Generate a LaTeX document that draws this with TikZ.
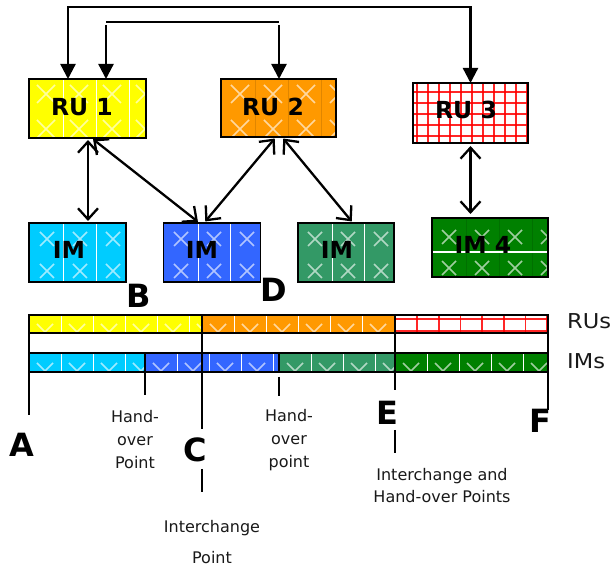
\documentclass[tikz,border=0pt]{standalone}
\usepackage{fontspec}
\setmainfont{DejaVu Sans}
\usetikzlibrary{arrows.meta}
\definecolor{cYellow}{HTML}{FFFF00}
\definecolor{cOrange}{HTML}{FF9900}
\definecolor{cCyan}{HTML}{00CCFF}
\definecolor{cBlue}{HTML}{3366FF}
\definecolor{cSea}{HTML}{339966}
\definecolor{cGreen}{HTML}{008000}
\definecolor{cRed}{HTML}{FF0000}

% X marks: #1 x of first centre, #2 y of first centre, #3 dx, #4 dy, #5 nx, #6 ny, #7 half size
\newcommand\crosses[7]{%
  \foreach \i in {1,...,#5}{\foreach \j in {1,...,#6}{%
    \draw[xmark] ({#1+(\i-1)*#3-#7},{#2+(\j-1)*#4-#7}) -- ++({2*#7},{2*#7})
                 ({#1+(\i-1)*#3-#7},{#2+(\j-1)*#4+#7}) -- ++({2*#7},{-2*#7});}}}

% bar segment: x1,x2,y1,y2,colour,count
\newcommand\barseg[6]{%
  \fill[#5] (#1,#3) rectangle (#2,#4);
  \begin{scope}
    \clip (#1,#3) rectangle (#2,#4);
    \foreach \k in {0,...,#6}{%
      \draw[wline] ({#1+32+32*\k},#3) -- ({#1+32+32*\k},#4);
      \draw[xmark] ({#1+16+32*\k-8},{#4-9}) -- ({#1+16+32*\k},{#4-1}) -- ({#1+16+32*\k+8},{#4-9});}
  \end{scope}}

\tikzset{
  box/.style={draw=black,line width=1.9pt,inner sep=0pt,outer sep=0pt},
  wline/.style={white,line width=0.9pt},
  fline/.style={black,opacity=0.12,line width=0.8pt},
  xmark/.style={white,opacity=0.62,line width=1.5pt},
  conn/.style={line width=2.3pt},
  dbl/.style={conn,{Straight Barb[length=11pt,width=20pt]}-{Straight Barb[length=11pt,width=20pt]},shorten <=2pt,shorten >=2pt},
  tip/.style={conn,-{Triangle[length=15pt,width=15pt]}},
  boxlbl/.style={font=\fontsize{23.5}{27}\selectfont\bfseries,inner sep=0pt},
  big/.style={font=\fontsize{32}{36}\selectfont\bfseries,inner sep=0pt},
  note/.style={font=\fontsize{16}{23}\selectfont,align=center,inner sep=0pt,text=black!90},
  side/.style={anchor=west,inner sep=0pt,font=\fontsize{20.5}{24}\selectfont,text=black!90},
  mline/.style={line width=2pt},
  gridline/.style={cRed,line width=1.8pt,opacity=0.85}
}

\begin{document}
\begin{tikzpicture}[x=1pt,y=-1pt]
\useasboundingbox (0,0) rectangle (614,569);

% ---------- RU 1 ----------
\fill[cYellow] (29,79) rectangle (146,138);
\begin{scope}\clip (29,79) rectangle (146,138);
  \foreach \x in {63,96,129} \draw[wline] (\x,79) -- (\x,138);
  \crosses{46}{94}{33}{35}{4}{2}{9}
\end{scope}
\node[box,minimum width=117pt,minimum height=59pt] (ru1) at (87.5,108.5) {};
\node[boxlbl] (ru1t) at (82,107) {RU 1};

% ---------- RU 2 ----------
\fill[cOrange] (221,79) rectangle (336,137);
\begin{scope}\clip (221,79) rectangle (336,137);
  \foreach \x in {255,288,321} \draw[fline] (\x,79) -- (\x,137);
  \crosses{240}{94}{33}{35}{4}{2}{9}
\end{scope}
\node[box,minimum width=115pt,minimum height=58pt] (ru2) at (278.5,108) {};
\node[boxlbl] (ru2t) at (273,107) {RU 2};

% ---------- RU 3 ----------
\fill[white] (413,83) rectangle (528,143);
\begin{scope}\clip (413,83) rectangle (528,143);
  \foreach \x in {417,428,...,528} \draw[gridline] (\x,83) -- (\x,143);
  \foreach \y in {92,103,...,143} \draw[gridline] (413,\y) -- (528,\y);
\end{scope}
\node[box,minimum width=115pt,minimum height=60pt] (ru3) at (470.5,113) {};
\node[boxlbl] (ru3t) at (466,110) {RU 3};

% ---------- IM cyan ----------
\fill[cCyan] (29,223) rectangle (126,282);
\begin{scope}\clip (29,223) rectangle (126,282);
  \foreach \x in {63,96} \draw[wline] (\x,223) -- (\x,282);
  \crosses{47}{239}{33}{32}{3}{2}{7}
\end{scope}
\node[box,minimum width=97pt,minimum height=59pt] (imc) at (77.5,252.5) {};
\node[boxlbl] (imct) at (69,250) {IM};

% ---------- IM blue ----------
\fill[cBlue] (163.5,223) rectangle (260.5,282);
\begin{scope}\clip (163.5,223) rectangle (260.5,282);
  \foreach \x in {198,230} \draw[wline] (\x,223) -- (\x,282);
  \crosses{181}{239}{33}{32}{3}{2}{7}
\end{scope}
\node[box,minimum width=97pt,minimum height=59pt] (imb) at (212,252.5) {};
\node[boxlbl] (imbt) at (202,250) {IM};

% ---------- IM sea green ----------
\fill[cSea] (298,223) rectangle (394,282);
\begin{scope}\clip (298,223) rectangle (394,282);
  \foreach \x in {332,364} \draw[wline] (\x,223) -- (\x,282);
  \crosses{315}{239}{33}{32}{3}{2}{7}
\end{scope}
\node[box,minimum width=96pt,minimum height=59pt] (ims) at (346,252.5) {};
\node[boxlbl] (imst) at (337,250) {IM};

% ---------- IM 4 ----------
\fill[cGreen] (432,218) rectangle (548,277);
\begin{scope}\clip (432,218) rectangle (548,277);
  \foreach \x in {466,499,532} \draw[fline] (\x,218) -- (\x,277);
  \draw[wline,line width=1.2pt] (432,252) -- (548,252);
  \crosses{449}{237}{33}{31}{4}{2}{7}
\end{scope}
\node[box,minimum width=116pt,minimum height=59pt] (im4) at (490,247.5) {};
\node[boxlbl] (im4t) at (483,245) {IM 4};

% ---------- top connectors ----------
\coordinate (t1) at (68,7);
\coordinate (t2) at (470.5,7);
\draw[conn,{Triangle[length=15pt,width=15pt]}-{Triangle[length=15pt,width=15pt]}]
  ([xshift=-19.5pt]ru1.north) -- (t1) -- (t2) -- (ru3.north);
\coordinate (s1) at (106,22);
\coordinate (s2) at (279,22);
\coordinate (s1b) at (106,25);
\coordinate (s2b) at (279,25);
\draw[conn] (s1) -- (s2);
\draw[tip] (s1b) -- ([xshift=18.5pt]ru1.north);
\draw[tip] (s2b) -- ([xshift=0.5pt]ru2.north);

% ---------- double arrows ----------
\draw[dbl] ([xshift=0.5pt]ru1.south) -- ([xshift=10.5pt]imc.north);
\draw[dbl] ([xshift=4pt]ru1.south) -- ([xshift=-12.5pt]imb.north);
\draw[dbl] ([xshift=-2.5pt]ru2.south) -- ([xshift=-8pt]imb.north);
\draw[dbl] ([xshift=3.5pt]ru2.south) -- ([xshift=7pt]ims.north);
\draw[dbl,shorten <=3pt,shorten >=4pt] (ru3.south) -- ([xshift=-19.5pt]im4.north);

% ---------- letters ----------
\node[big] (B) at (139,296) {B};
\node[big] (D) at (274,290) {D};
\node[big] (A) at (22,445) {A};
\node[big] (C) at (195,450) {C};
\node[big] (E) at (387,413) {E};
\node[big] (F) at (540,421) {F};

% ---------- bars ----------
\barseg{29}{202}{315}{333}{cYellow}{5}
\barseg{202}{395}{315}{333}{cOrange}{5}
\fill[white] (395,315) rectangle (548,333);
\begin{scope}\clip (395,315) rectangle (548,333);
  \foreach \x in {417,438.7,...,548} \draw[gridline] (\x,315) -- (\x,333);
  \foreach \y in {319,331} \draw[gridline] (395,\y) -- (548,\y);
\end{scope}
\barseg{29}{145}{353}{372}{cCyan}{3}
\barseg{145}{279}{353}{372}{cBlue}{4}
\barseg{279}{395}{353}{372}{cSea}{3}
\barseg{395}{548}{353}{372}{cGreen}{4}

\draw[mline] (29,315) rectangle (548,333);
\draw[mline] (29,353) rectangle (548,372);
\draw[mline] (29,315) -- (29,415);
\draw[mline] (548,315) -- (548,410);
\draw[mline] (202,315) -- (202,429);
\draw[mline] (202,469) -- (202,492);
\draw[mline] (395,315) -- (395,390);
\draw[mline] (395,430) -- (395,453);
\draw[mline] (145,353) -- (145,395);
\draw[mline] (279,353) -- (279,372);
\draw[mline] (279,377) -- (279,396);

\node[side] (ruslbl) at (567,321) {\scalebox{1.1}[1]{RUs}};
\node[side] (imslbl) at (567,361) {\scalebox{1.1}[1]{IMs}};

% ---------- notes ----------
\node[note] (h1) at (135,440) {Hand-\\over\\Point};
\node[note] (h2) at (289,440) {Hand-\\over\\point};
\node[note,font=\fontsize{16}{22}\selectfont] (h3) at (442,486) {Interchange and\\Hand-over Points};
\node[note,font=\fontsize{16}{31}\selectfont] (h4) at (212,542) {Interchange\\Point};
\end{tikzpicture}
\end{document}
